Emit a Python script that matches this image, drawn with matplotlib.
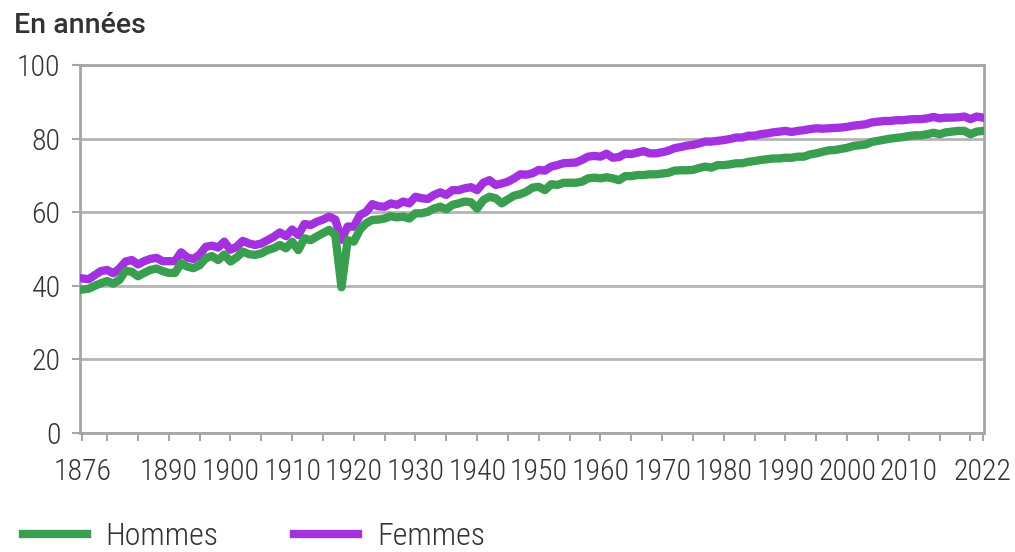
import numpy as np
import matplotlib
matplotlib.use('Agg')
import matplotlib.pyplot as plt
from matplotlib import font_manager
from matplotlib.lines import Line2D

years = np.arange(1876, 2023)

hommes = [
    39.0, 39.2, 40.0, 40.7, 41.3, 40.6, 41.6, 44.1, 43.8, 42.6,   # 1876-1885
    43.5, 44.3, 44.7, 44.0, 43.5, 43.5, 46.1, 45.2, 44.8, 45.6,   # 1886-1895
    47.5, 48.1, 47.0, 48.5, 46.6, 47.7, 49.3, 48.6, 48.4, 48.8,   # 1896-1905
    49.7, 50.2, 51.1, 50.2, 52.0, 49.7, 52.9, 52.4, 53.4, 54.3,   # 1906-1915
    55.2, 53.8, 39.6, 52.4, 52.0, 55.3, 57.0, 57.9, 58.0, 58.3,   # 1916-1925
    58.9, 58.6, 58.8, 58.3, 59.7, 59.7, 60.1, 61.0, 61.5, 60.8,   # 1926-1935
    62.0, 62.4, 62.9, 62.7, 61.0, 63.3, 64.2, 63.8, 62.4, 63.5,   # 1936-1945
    64.5, 64.9, 65.6, 66.7, 66.9, 66.0, 67.6, 67.4, 68.0, 68.0,   # 1946-1955
    68.0, 68.3, 69.2, 69.4, 69.2, 69.5, 69.2, 68.7, 69.8, 69.8,   # 1956-1965
    70.1, 70.1, 70.3, 70.3, 70.5, 70.7, 71.3, 71.4, 71.4, 71.5,   # 1966-1975
    72.0, 72.4, 72.1, 72.8, 72.8, 73.0, 73.3, 73.3, 73.7, 73.9,   # 1976-1985
    74.2, 74.4, 74.6, 74.6, 74.8, 74.8, 75.1, 75.1, 75.7, 76.0,   # 1986-1995
    76.4, 76.8, 76.9, 77.2, 77.5, 78.0, 78.2, 78.4, 79.1, 79.4,   # 1996-2005
    79.7, 80.0, 80.2, 80.4, 80.7, 80.9, 80.9, 81.2, 81.6, 81.2,   # 2006-2015
    81.7, 81.9, 82.1, 82.1, 81.2, 81.9, 82.1,                     # 2016-2022
]

femmes = [
    42.0, 41.8, 42.9, 44.0, 44.3, 43.4, 44.7, 46.6, 47.0, 45.8,   # 1876-1885
    46.7, 47.3, 47.6, 46.7, 46.7, 46.7, 49.1, 47.7, 47.3, 48.5,   # 1886-1895
    50.6, 50.9, 50.4, 52.0, 49.8, 50.6, 52.2, 51.5, 51.1, 51.5,   # 1896-1905
    52.4, 53.3, 54.5, 53.5, 55.3, 53.8, 56.8, 56.5, 57.4, 58.0,   # 1906-1915
    58.8, 58.0, 52.5, 56.1, 56.1, 59.2, 60.1, 62.2, 61.6, 61.5,   # 1916-1925
    62.4, 62.0, 62.9, 62.4, 64.2, 63.8, 63.6, 64.7, 65.4, 64.7,   # 1926-1935
    66.0, 66.0, 66.5, 66.8, 66.0, 68.0, 68.7, 67.4, 67.8, 68.3,   # 1936-1945
    69.2, 70.3, 70.2, 70.6, 71.5, 71.3, 72.4, 72.8, 73.3, 73.4,   # 1946-1955
    73.5, 74.2, 75.1, 75.3, 75.1, 75.9, 74.8, 75.0, 75.9, 75.8,   # 1956-1965
    76.2, 76.6, 76.0, 76.0, 76.3, 76.7, 77.4, 77.7, 78.1, 78.3,   # 1966-1975
    78.7, 79.2, 79.2, 79.4, 79.6, 79.9, 80.3, 80.3, 80.8, 80.8,   # 1976-1985
    81.2, 81.4, 81.7, 81.9, 82.1, 81.8, 82.1, 82.3, 82.6, 82.8,   # 1986-1995
    82.7, 82.8, 82.9, 83.0, 83.2, 83.5, 83.7, 83.9, 84.4, 84.6,   # 1996-2005
    84.8, 84.8, 85.0, 85.0, 85.2, 85.3, 85.3, 85.5, 85.9, 85.5,   # 2006-2015
    85.7, 85.7, 85.8, 86.0, 85.3, 86.0, 85.7,                     # 2016-2022
]

x_labels = [1876, 1890, 1900, 1910, 1920, 1930, 1940, 1950, 1960,
            1970, 1980, 1990, 2000, 2010, 2022]
y_ticks = [0, 20, 40, 60, 80, 100]

green = '#399e4f'
purple = '#a331e0'
text_col = '#333333'
grey = '#a6a6a6'

# narrow font for ticks / legend if available
names = {f.name for f in font_manager.fontManager.ttflist}
narrow = next((n for n in ['Roboto Condensed', 'Liberation Sans Narrow', 'Roboto']
               if n in names), 'DejaVu Sans')

fig = plt.figure(figsize=(10.15, 5.52), dpi=100)
ax = fig.add_axes([0.0788, 0.2156, 0.8907, 0.6666])

ax.plot(years, femmes, color=purple, lw=6, solid_joinstyle='round', zorder=3)
ax.plot(years, hommes, color=green, lw=6, solid_joinstyle='round', zorder=4)

ax.set_xlim(1875.6, 2022.2)
ax.set_ylim(0, 100)
ax.set_yticks(y_ticks)
ax.set_xticks(x_labels)
ax.set_xticks(np.arange(1880, 2021, 5), minor=True)
ax.yaxis.grid(True, color='#b4b4b4', lw=2)
ax.set_axisbelow(True)

for s in ax.spines.values():
    s.set_color(grey)
    s.set_linewidth(2)

ax.tick_params(axis='both', colors=grey, width=1.5, length=6)
ax.tick_params(axis='x', which='minor', colors=grey, width=1.5, length=6)
ax.tick_params(axis='x', pad=12)
ax.tick_params(axis='y', pad=8)
for lab in ax.get_xticklabels() + ax.get_yticklabels():
    lab.set_fontfamily(narrow)
    lab.set_fontweight('light')
    lab.set_fontsize(21.5)
    lab.set_color(text_col)

fig.text(0.014, 0.94, 'En années', fontsize=20.5, fontfamily='Roboto',
         fontweight='medium', color=text_col)

handles = [Line2D([], [], color=green, lw=6), Line2D([], [], color=purple, lw=6)]
fig.legend(handles, ['Hommes', 'Femmes'], loc='lower left', bbox_to_anchor=(-0.006, -0.05),
           ncol=2, frameon=False, handlelength=2.0, handletextpad=0.6,
           columnspacing=2.35, prop={'family': narrow, 'size': 23, 'weight': 'light'},
           labelcolor=text_col)

fig.savefig('out.png', dpi=100)
